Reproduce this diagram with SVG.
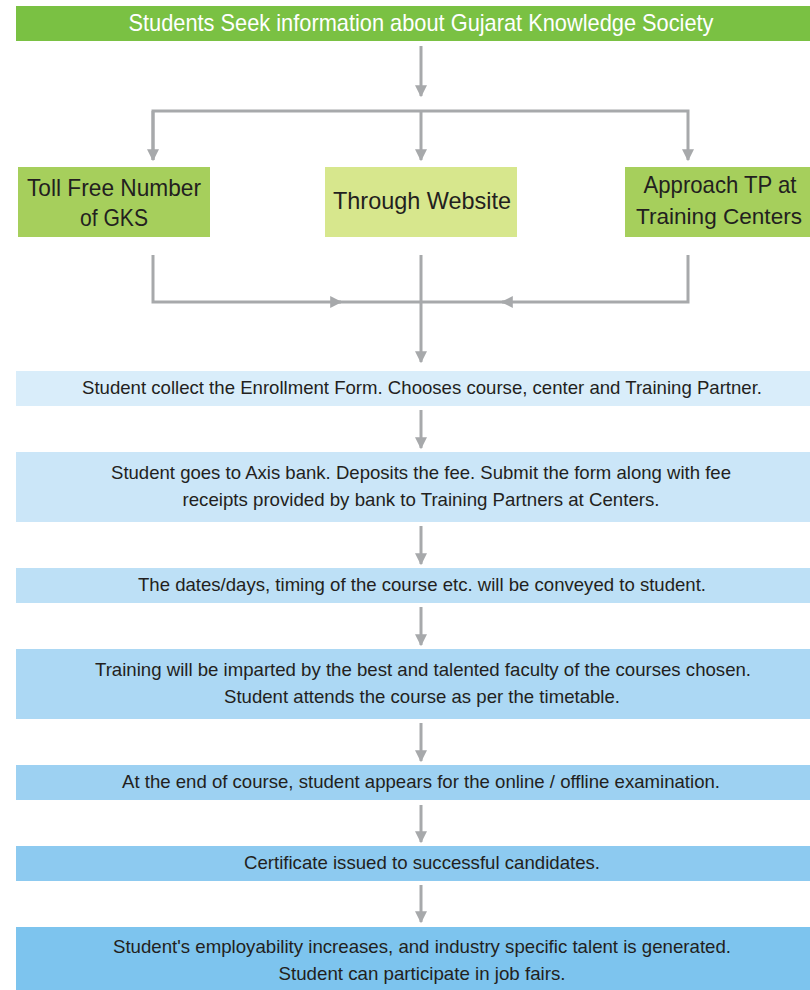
<svg xmlns="http://www.w3.org/2000/svg" width="810" height="990" viewBox="0 0 810 990">
<style>
.t{font-family:"Liberation Sans",Arial,sans-serif;fill:#231f20;text-anchor:middle}
.h{font-size:24px;fill:#fff}
.n{font-size:24px}
.s{font-size:22px}
.b{font-size:18.5px}
.c{stroke:#a7a9ab;stroke-width:3;fill:none}
</style>
<defs>
<marker id="ah" viewBox="0 0 10 10" refX="9" refY="5" markerWidth="4.2" markerHeight="4" orient="auto" markerUnits="strokeWidth">
<path d="M0,0 L10,5 L0,10 Z" fill="#a7a9ab"/>
</marker>
</defs>
<rect width="810" height="990" fill="#fff"/>
<g id="connectors">
<line class="c" x1="421" y1="46" x2="421" y2="96" marker-end="url(#ah)"/>
<polyline class="c" points="153,160 153,111 688,111 688,160" marker-end="url(#ah)"/>
<line class="c" x1="153" y1="111" x2="153" y2="160" marker-end="url(#ah)"/>
<line class="c" x1="421" y1="111" x2="421" y2="160" marker-end="url(#ah)"/>
<polyline class="c" points="153,255 153,302 341,302" marker-end="url(#ah)"/>
<polyline class="c" points="688,255 688,302 502,302" marker-end="url(#ah)"/>
<line class="c" x1="335" y1="302" x2="508" y2="302"/>
<line class="c" x1="421" y1="255" x2="421" y2="362" marker-end="url(#ah)"/>
<line class="c" x1="421" y1="410" x2="421" y2="448" marker-end="url(#ah)"/>
<line class="c" x1="421" y1="526" x2="421" y2="564" marker-end="url(#ah)"/>
<line class="c" x1="421" y1="607" x2="421" y2="645" marker-end="url(#ah)"/>
<line class="c" x1="421" y1="723" x2="421" y2="761" marker-end="url(#ah)"/>
<line class="c" x1="421" y1="805" x2="421" y2="842" marker-end="url(#ah)"/>
<line class="c" x1="421" y1="885" x2="421" y2="922" marker-end="url(#ah)"/>
</g>
<g id="title">
<rect x="16" y="6" width="794" height="35" fill="#7ac143"/>
<text class="t h" x="421" y="31" textLength="585" lengthAdjust="spacingAndGlyphs">Students Seek information about Gujarat Knowledge Society</text>
</g>
<g id="tollfree">
<rect x="18" y="167" width="192" height="70" fill="#a6cf5c"/>
<text class="t n" x="114" y="196" textLength="174" lengthAdjust="spacingAndGlyphs">Toll Free Number</text>
<text class="t n" x="114" y="226" textLength="68" lengthAdjust="spacingAndGlyphs">of GKS</text>
</g>
<g id="website">
<rect x="325" y="167" width="192" height="70" fill="#d7e78d"/>
<text class="t n" x="422" y="209" textLength="178" lengthAdjust="spacingAndGlyphs">Through Website</text>
</g>
<g id="approach">
<rect x="625" y="167" width="185" height="70" fill="#a6cf5c"/>
<text class="t n" x="720" y="193" textLength="153" lengthAdjust="spacingAndGlyphs">Approach TP at</text>
<text class="t s" x="719" y="224" textLength="166" lengthAdjust="spacingAndGlyphs">Training Centers</text>
</g>
<g id="step1">
<rect x="16" y="371" width="794" height="35" fill="#d9edfa"/>
<text class="t b" x="422" y="394" textLength="680" lengthAdjust="spacingAndGlyphs">Student collect the Enrollment Form. Chooses course, center and Training Partner.</text>
</g>
<g id="step2">
<rect x="16" y="452" width="794" height="70" fill="#cbe6f8"/>
<text class="t b" x="421" y="479" textLength="620" lengthAdjust="spacingAndGlyphs">Student goes to Axis bank. Deposits the fee. Submit the form along with fee</text>
<text class="t b" x="421" y="506" textLength="477" lengthAdjust="spacingAndGlyphs">receipts provided by bank to Training Partners at Centers.</text>
</g>
<g id="step3">
<rect x="16" y="568" width="794" height="35" fill="#bde0f6"/>
<text class="t b" x="422" y="591" textLength="568" lengthAdjust="spacingAndGlyphs">The dates/days, timing of the course etc. will be conveyed to student.</text>
</g>
<g id="step4">
<rect x="16" y="649" width="794" height="70" fill="#acd8f4"/>
<text class="t b" x="423" y="676" textLength="656" lengthAdjust="spacingAndGlyphs">Training will be imparted by the best and talented faculty of the courses chosen.</text>
<text class="t b" x="422" y="703" textLength="396" lengthAdjust="spacingAndGlyphs">Student attends the course as per the timetable.</text>
</g>
<g id="step5">
<rect x="16" y="765" width="794" height="35" fill="#9dd1f2"/>
<text class="t b" x="421" y="788" textLength="598" lengthAdjust="spacingAndGlyphs">At the end of course, student appears for the online / offline examination.</text>
</g>
<g id="step6">
<rect x="16" y="846" width="794" height="35" fill="#8dcaf0"/>
<text class="t b" x="422" y="869" textLength="356" lengthAdjust="spacingAndGlyphs">Certificate issued to successful candidates.</text>
</g>
<g id="step7">
<rect x="16" y="927" width="794" height="63" fill="#7dc4ee"/>
<text class="t b" x="422" y="953" textLength="618" lengthAdjust="spacingAndGlyphs">Student's employability increases, and industry specific talent is generated.</text>
<text class="t b" x="422" y="980" textLength="287" lengthAdjust="spacingAndGlyphs">Student can participate in job fairs.</text>
</g>
</svg>
